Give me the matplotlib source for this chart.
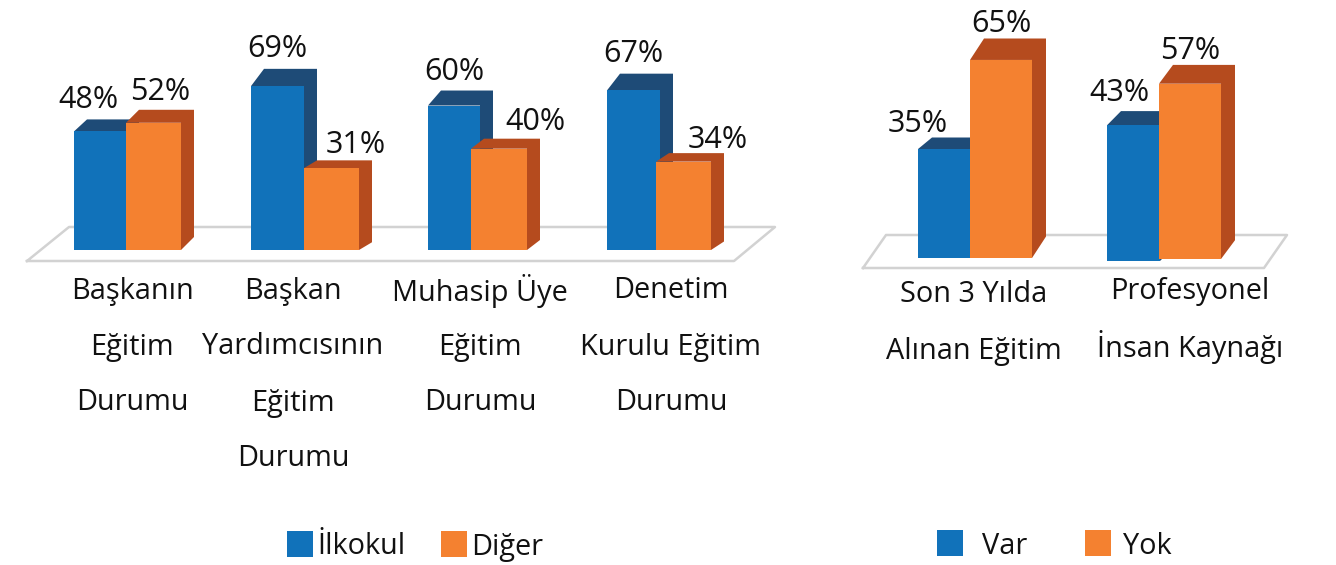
import matplotlib
matplotlib.use('Agg')
import matplotlib.pyplot as plt
from matplotlib.patches import Rectangle

plt.rcParams['font.family'] = ['Open Sans', 'DejaVu Sans']

# values
left_ilkokul = [48, 69, 60, 67]
left_diger = [52, 31, 40, 34]
right_var = [35, 43]
right_yok = [65, 57]

left_labels = [['Başkanın', 'Eğitim', 'Durumu'],
               ['Başkan', 'Yardımcısının', 'Eğitim', 'Durumu'],
               ['Muhasip Üye', 'Eğitim', 'Durumu'],
               ['Denetim', 'Kurulu Eğitim', 'Durumu']]
right_labels = [['Son 3 Yılda', 'Alınan Eğitim'],
                ['Profesyonel', 'İnsan Kaynağı']]

BLUE = '#1172BA'
ORANGE = '#F48130'
DARK_BLUE = '#1E4B77'
DARK_ORANGE = '#B54B1E'
FLOOR = '#D2D2D2'
W, H = 1336, 565
FS_CAT = 20.8
FS_VAL = 22
TXT = '#111111'


def depth(ax, x0, x1, top, base, dx, dy, scale, color, z):
    # side and top faces of a fake 3d bar, one polygon so there is no seam
    d = dy / scale
    ax.fill([x0, x0 + dx, x1 + dx, x1 + dx, x1, x1],
            [top, top + d, top + d, base + d, base, top],
            color=color, lw=0, zorder=z)


def panel(fig, values, edges, zero_px, scale, base_px, dx, k, colors, darks, dxl, dyl):
    ax = fig.add_axes([0, 0, 1, 1], facecolor='none')
    ax.set_xlim(0, W)
    ax.set_ylim((zero_px - H) / scale, zero_px / scale)
    ax.axis('off')
    n = len(values[0])
    for s in [0, 1]:
        for i in range(n):
            x0, x1 = edges[s][i]
            v = values[s][i]
            base = (zero_px - base_px[s][i]) / scale
            depth(ax, x0, x1, v, base, dx, k * v, scale, darks[s], 2 + 2 * s)
            ax.bar(x0, v - base, bottom=base, width=x1 - x0, align='edge',
                   color=colors[s], lw=0, zorder=3 + 2 * s)
    for s in [0, 1]:
        for i in range(n):
            x0, x1 = edges[s][i]
            ax.annotate(str(values[s][i]) + '%', (x0 + (x1 - x0) / 2, values[s][i]),
                        xytext=(dxl[s][i], dyl[s][i]), textcoords='offset pixels',
                        ha='center', va='center', fontsize=FS_VAL, color=TXT, zorder=8)
    return ax


fig = plt.figure(figsize=(W / 100, H / 100), dpi=100, facecolor='white')
bg = fig.add_axes([0, 0, 1, 1])
bg.set_xlim(0, W)
bg.set_ylim(H, 0)
bg.axis('off')

# floors
bg.plot([27, 69, 775, 734, 27], [261, 227, 227, 261, 261], color=FLOOR, lw=1.8, zorder=1)
bg.plot([863, 886, 1287, 1264, 863], [268, 235, 235, 268, 268], color=FLOOR, lw=1.8, zorder=1)

panel(fig, [left_ilkokul, left_diger],
      [[(74, 126), (251, 304), (428, 480), (607, 660)],
       [(126, 181), (304, 359), (471, 527), (656, 711)]],
      235, 2.158, [[250] * 4, [250] * 4], 13, 0.25,
      [BLUE, ORANGE], [DARK_BLUE, DARK_ORANGE],
      [[-12, 0, 0, 0], [7, 24, 36, 34]], [[31, 37, 34, 36], [31, 23, 27, 22]])

panel(fig, [right_var, right_yok],
      [[(918, 971), (1107, 1160)], [(970, 1032), (1159, 1221)]],
      253, 2.97, [[258, 261], [258, 259]], 14, 0.33,
      [BLUE, ORANGE], [DARK_BLUE, DARK_ORANGE],
      [[-27, -14], [0, 0]], [[25, 32], [36, 33]])

# category labels
for lines, cx in zip(left_labels, [132, 293, 480, 671]):
    for j, line in enumerate(lines):
        bg.text(cx, 291 + 56 * j, line, ha='center', va='center', fontsize=FS_CAT, color=TXT)
for lines, cx, y0 in zip(right_labels, [974, 1190], [295, 291]):
    for j, line in enumerate(lines):
        bg.text(cx, y0 + 56 * j, line, ha='center', va='center', fontsize=FS_CAT, color=TXT)

# legends
for x, y, c, name, tx in [(287, 531, BLUE, 'İlkokul', 317), (441, 531, ORANGE, 'Diğer', 471),
                          (937, 530, BLUE, 'Var', 982), (1085, 530, ORANGE, 'Yok', 1123)]:
    bg.add_patch(Rectangle((x, y), 26, 26, color=c, lw=0))
    bg.text(tx, 547, name, ha='left', va='center', fontsize=FS_CAT, color=TXT)

fig.savefig('out.png', dpi=100)
